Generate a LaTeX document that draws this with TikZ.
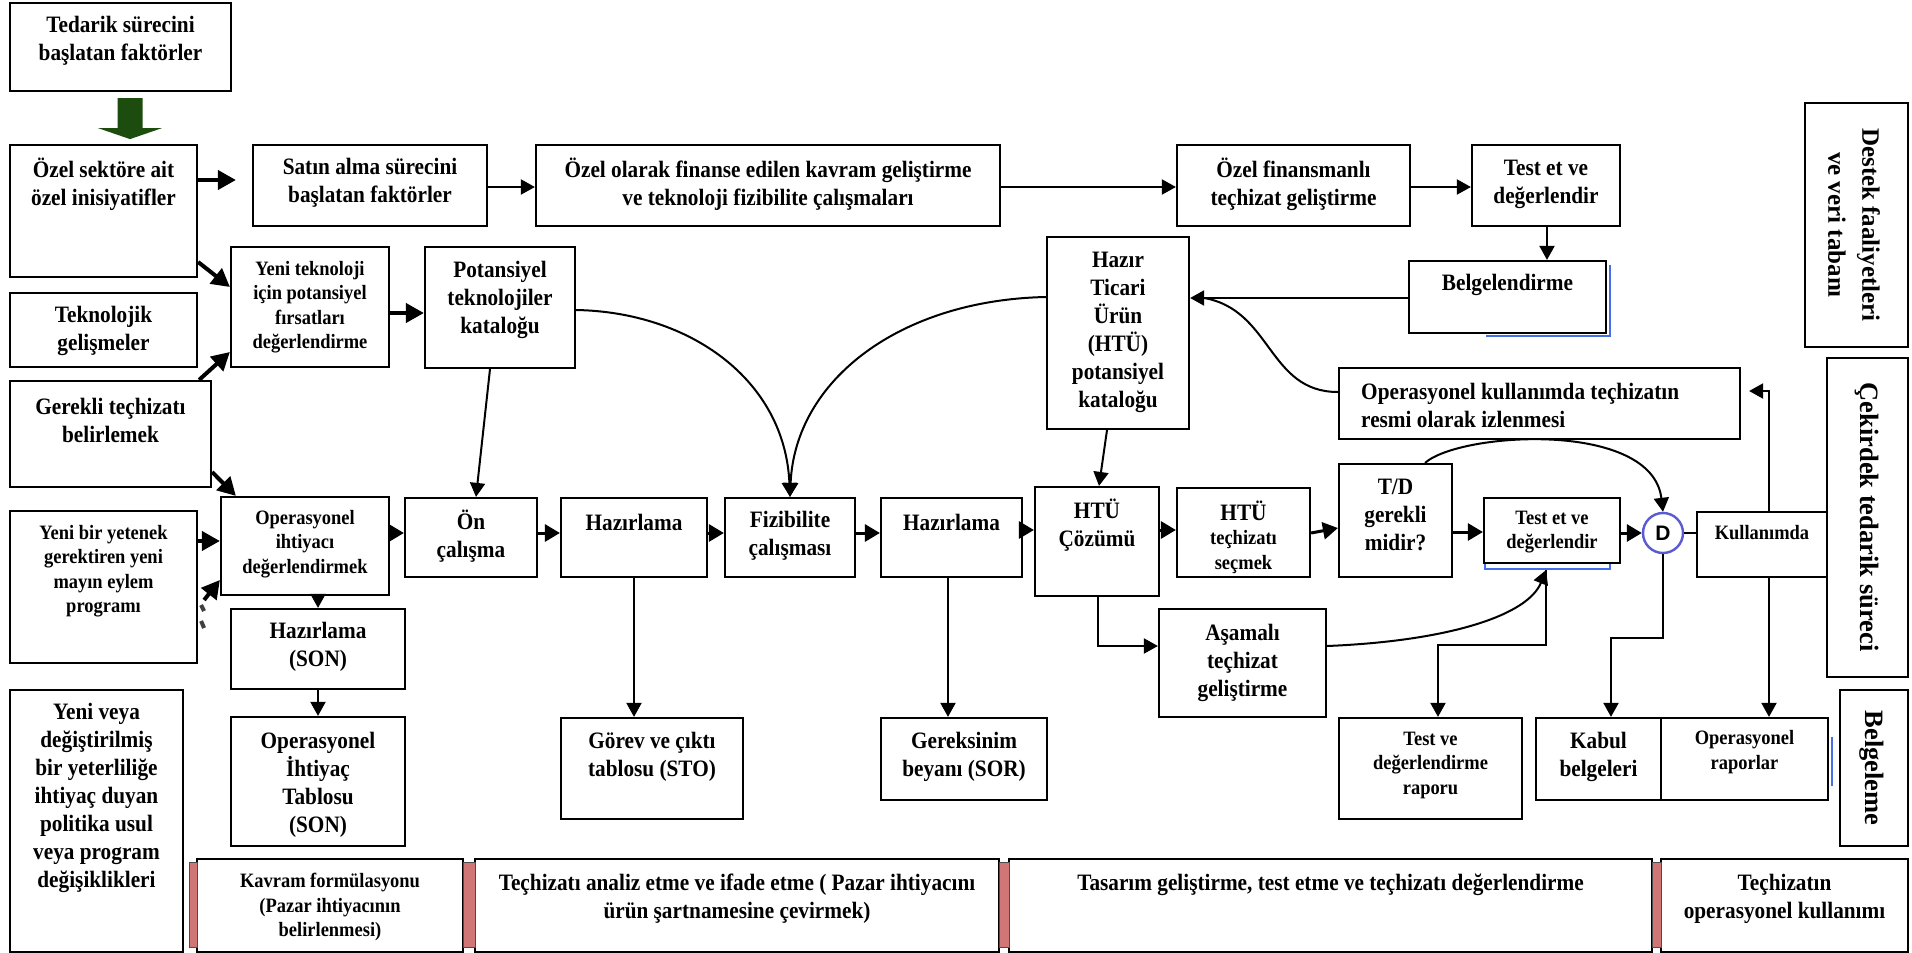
\documentclass[tikz,border=0pt]{standalone}
\usepackage{fontspec}
\setmainfont{Liberation Serif}
\newfontfamily\tfnt{Liberation Serif}[FakeStretch=0.905]
\newfontfamily\vfnt{Liberation Serif}
\newfontfamily\dfnt{Liberation Sans}
\usetikzlibrary{arrows.meta,fit,calc}
\definecolor{gdark}{RGB}{28,76,14}
\definecolor{bsh}{RGB}{70,110,230}
\definecolor{dblue}{RGB}{90,90,210}
\definecolor{rbar}{RGB}{208,118,118}
\newcommand\bx[5]{\node[box, fit={(#2,#3) (#4,#5)}] (#1) {};}
\tikzset{
 box/.style={draw=black, line width=2.2pt, inner sep=0pt},
 bt/.style={font=\tfnt\bfseries\fontsize{23.5}{28}\selectfont, align=center, inner sep=0pt},
 st/.style={font=\tfnt\bfseries\fontsize{20.4}{24.5}\selectfont, align=center, inner sep=0pt},
 vt/.style={font=\vfnt\bfseries\fontsize{25}{34}\selectfont, align=center, inner sep=0pt, rotate=-90},
 vtb/.style={font=\vfnt\bfseries\fontsize{26.5}{34}\selectfont, align=center, inner sep=0pt, rotate=-90},
 ln/.style={line width=2pt},
 ar/.style={line width=2pt, -{Triangle[length=14pt,width=15pt]}},
 mar/.style={line width=3pt, -{Triangle[length=15pt,width=17pt]}},
 tar/.style={line width=4pt, -{Triangle[length=18pt,width=19pt]}},
 shb/.style={draw=bsh, line width=2.2pt},
 redbar/.style={fill=rbar, draw=black!70, line width=1pt},
}
\begin{document}
\begin{tikzpicture}[x=1pt,y=-1pt]
\useasboundingbox (0,0) rectangle (1912,953);
\fill[white] (0,0) rectangle (1912,953);

% ---------- boxes ----------
\bx{ted}{10}{3}{231}{91}
\bx{ozs}{10}{145}{197}{277}
\bx{sat}{253}{145}{487}{226}
\bx{ozo}{536}{145}{1000}{226}
\bx{ozf}{1177}{145}{1410}{226}
\bx{tea}{1472}{145}{1620}{226}
\bx{blg}{1409}{261}{1606}{333}
\bx{dst}{1805}{103}{1908}{347}
\bx{ytk}{231}{247}{389}{367}
\bx{pot}{425}{247}{575}{368}
\bx{htc}{1047}{237}{1189}{429}
\bx{tek}{10}{293}{197}{367}
\bx{ger}{10}{381}{211}{487}
\bx{opk}{1339}{368}{1740}{439}
\bx{cek}{1827}{358}{1908}{677}
\bx{ybr}{10}{511}{197}{663}
\bx{opi}{221}{497}{389}{595}
\bx{onc}{405}{498}{537}{577}
\bx{hza}{561}{498}{707}{577}
\bx{fiz}{725}{498}{855}{577}
\bx{hzb}{881}{498}{1022}{577}
\bx{htu}{1035}{487}{1159}{596}
\bx{hts}{1177}{488}{1310}{577}
\bx{tdg}{1339}{464}{1452}{577}
\bx{teb}{1484}{498}{1620}{563}
\bx{kul}{1697}{512}{1827}{577}
\bx{son}{231}{609}{405}{689}
\bx{asm}{1159}{609}{1326}{717}
\bx{oit}{231}{717}{405}{846}
\bx{yvy}{10}{690}{183}{952}
\bx{grv}{561}{718}{743}{819}
\bx{grk}{881}{718}{1047}{800}
\bx{tdr}{1339}{718}{1522}{819}
\bx{kbl}{1536}{718}{1661}{800}
\bx{opr}{1661}{718}{1828}{800}
\bx{blm}{1840}{690}{1908}{846}
\bx{kvr}{197}{859}{463}{952}
\bx{tca}{475}{859}{999}{952}
\bx{tsr}{1009}{859}{1652}{952}
\bx{tko}{1661}{859}{1908}{952}

% red separators
\draw[redbar] (189,862) rectangle (197,947);
\draw[redbar] (463,862) rectangle (475,947);
\draw[redbar] (999,862) rectangle (1009,947);
\draw[redbar] (1652,862) rectangle (1661,947);

% blue shadows
\draw[shb] ($(blg.north east)+(3,5)$) -- ($(blg.south east)+(3,2)$) -- ($(blg.south)+(-22,2)$);
\draw[shb] ($(teb.south west)+(2,0)$) -- ($(teb.south west)+(2,5)$) -- ($(teb.south east)+(-11,5)$) -- ($(teb.south east)+(-11,0)$);
\draw[shb] ($(opr.north east)+(3,20)$) -- ($(opr.south east)+(3,-15)$);

% ---------- texts ----------
\node[bt] (ted-t) at (120.5,41) {Tedarik sürecini\\başlatan faktörler};
\node[bt] (ozs-t) at (103.5,184) {Özel sektöre ait\\özel inisiyatifler};
\node[bt] (sat-t) at (370,183) {Satın alma sürecini\\başlatan faktörler};
\node[bt] (ozo-t) at (768,184) {Özel olarak finanse edilen kavram geliştirme\\ve teknoloji fizibilite çalışmaları};
\node[bt] (ozf-t) at (1293.5,184) {Özel finansmanlı\\teçhizat geliştirme};
\node[bt] (tea-t) at (1546,184) {Test et ve\\değerlendir};
\node[bt] (blg-t) at (1507.5,285) {Belgelendirme};
\node[vt] (dst-t) at (1854,225) {Destek faaliyetleri\\ve veri tabanı};
\node[st] (ytk-t) at (310,307) {Yeni teknoloji\\için potansiyel\\fırsatları\\değerlendirme};
\node[bt] (pot-t) at (500,300) {Potansiyel\\teknolojiler\\kataloğu};
\node[bt] (htc-t) at (1118,332) {Hazır\\Ticari\\Ürün\\(HTÜ)\\potansiyel\\kataloğu};
\node[bt] (tek-t) at (103.5,331) {Teknolojik\\gelişmeler};
\node[bt] (ger-t) at (110.5,420) {Gerekli teçhizatı\\belirlemek};
\node[bt, align=left, anchor=west] (opk-t) at (1361,405) {Operasyonel kullanımda teçhizatın\\resmi olarak izlenmesi};
\node[vtb] (cek-t) at (1867,517) {Çekirdek tedarik süreci};
\node[st] (ybr-t) at (103.5,571) {Yeni bir yetenek\\gerektiren yeni\\mayın eylem\\programı};
\node[st] (opi-t) at (305,544) {Operasyonel\\ihtiyacı\\değerlendirmek};
\node[bt] (onc-t) at (471,536) {Ön\\çalışma};
\node[bt] (hza-t) at (634,522) {Hazırlama};
\node[bt] (fiz-t) at (790,536) {Fizibilite\\çalışması};
\node[bt] (hzb-t) at (951.5,522) {Hazırlama};
\node[bt] (htu-t) at (1097,525) {HTÜ\\Çözümü};
\node[bt] (hts-a) at (1243.5,511) {HTÜ};
\begin{scope}
\clip (1178,489) rectangle (1309,576);
\node[st] (hts-b) at (1243.5,552) {teçhizatı\\seçmek};
\end{scope}
\node[bt] (tdg-t) at (1395.5,515) {T/D\\gerekli\\midir?};
\node[st] (teb-t) at (1552,532) {Test et ve\\değerlendir};
\node[st] (kul-t) at (1762,533) {Kullanımda};
\node[bt] (son-t) at (318,647) {Hazırlama\\(SON)};
\node[bt] (asm-t) at (1242.5,663) {Aşamalı\\teçhizat\\geliştirme};
\node[bt] (oit-t) at (318,785) {Operasyonel\\İhtiyaç\\Tablosu\\(SON)};
\node[bt] (yvy-t) at (96.5,798) {Yeni veya\\değiştirilmiş\\bir yeterliliğe\\ihtiyaç duyan\\politika usul\\veya program\\değişiklikleri};
\node[bt] (grv-t) at (652,757) {Görev ve çıktı\\tablosu (STO)};
\node[bt] (grk-t) at (964,757) {Gereksinim\\beyanı (SOR)};
\node[st] (tdr-t) at (1430.5,765) {Test ve\\değerlendirme\\raporu};
\node[bt] (kbl-t) at (1598.5,757) {Kabul\\belgeleri};
\node[st] (opr-t) at (1744.5,752) {Operasyonel\\raporlar};
\node[vtb] (blm-t) at (1872,768) {Belgeleme};
\node[st] (kvr-t) at (330,907) {Kavram formülasyonu\\(Pazar ihtiyacının\\belirlenmesi)};
\node[bt] (tca-t) at (737,899) {Teçhizatı analiz etme ve ifade etme ( Pazar ihtiyacını\\ürün şartnamesine çevirmek)};
\node[bt] (tsr-t) at (1330.5,885) {Tasarım geliştirme, test etme ve teçhizatı değerlendirme};
\node[bt] (tko-t) at (1784.5,899) {Teçhizatın\\operasyonel kullanımı};

% D circle
\node[circle, draw=dblue, line width=2.4pt, fill=white, minimum size=40pt, inner sep=0pt,
      font=\dfnt\bfseries\fontsize{21}{21}\selectfont] (dcr) at (1663,533) {D};

% ---------- green block arrow ----------
\coordinate (g) at ($(ted.south)+(9.5,0)$);
\fill[gdark] ($(g)+(-12.5,6)$) -- ($(g)+(12.5,6)$) -- ($(g)+(12.5,36)$) -- ($(g)+(32,36)$)
  -- ($(g)+(0,47)$) -- ($(g)+(-32,36)$) -- ($(g)+(-12.5,36)$) -- cycle;

% ---------- connectors ----------
% top row
\draw[tar, shorten >=16pt] (ozs.east |- 0,180) -- (sat.west |- 0,180);
\draw[ar] (sat.east |- 0,187) -- (ozo.west |- 0,187);
\draw[ar] (ozo.east |- 0,187) -- (ozf.west |- 0,187);
\draw[ar] (ozf.east |- 0,187) -- (tea.west |- 0,187);
\draw[ar] (tea.south -| 1547,0) -- (blg.north -| 1547,0);
\draw[ar] (blg.west |- 0,298) -- (htc.east |- 0,298);
\draw[ln] (opk.west |- 0,392) .. controls (1268,392) and (1272,310) .. ($(htc.east |- 0,298)+(14,0)$);

% left side
\draw[tar] (ozs.east |- 0,262) -- (ytk.west |- 0,287);
\draw[tar] ($(ger.north east)+(-13,0)$) -- (ytk.west |- 0,352);
\draw[tar] (ger.east |- 0,472) -- ($(opi.north west)+(16,0)$);
\draw[tar] (ybr.east |- 0,541) -- (opi.west |- 0,541);
\draw[tar] ($(ybr.east |- 0,600)+(6,0)$) -- (opi.west |- 0,580);
\draw[line width=4pt, black!75] ($(ybr.east |- 0,605)+(3,0)$) -- ++(3,6);
\draw[line width=4pt, black!75] ($(ybr.east |- 0,621)+(3,0)$) -- ++(3,7);
\draw[tar] (ytk.east |- 0,313) -- (pot.west |- 0,313);

% curves into feasibility
\draw[ar] (pot.east |- 0,310) .. controls (690,312) and (785,380) .. (fiz.north);
\draw[ar] (htc.west |- 0,297) .. controls (900,300) and (795,380) .. (fiz.north);
\draw[ar] (pot.south -| 490,0) -- (onc.north -| 476,0);

% main row
\draw[mar] (opi.east |- 0,533) -- (onc.west |- 0,533);
\draw[mar] (onc.east |- 0,533) -- (hza.west |- 0,533);
\draw[mar] (hza.east |- 0,533) -- (fiz.west |- 0,533);
\draw[mar] (fiz.east |- 0,533) -- (hzb.west |- 0,533);
\draw[mar] (hzb.east |- 0,530) -- (htu.west |- 0,530);
\draw[mar] (htu.east |- 0,530) -- (hts.west |- 0,530);
\draw[mar] (hts.east |- 0,533) -- (tdg.west |- 0,528);
\draw[mar] (tdg.east |- 0,532) -- (teb.west |- 0,532);
\draw[mar] (teb.east |- 0,533) -- (dcr.west);
\draw[ln] (dcr.east) -- (kul.west |- dcr.east);
\draw[ar] (tdg.north -| 1425,0) .. controls (1460,432) and (1652,420) .. (dcr.north);
\draw[ar] (htc.south -| 1107,0) -- (htu.north -| 1099,0);

% downward links
\draw[ar] (son.north |- opi.south) -- (son.north);
\draw[ar] (son.south) -- (oit.north);
\draw[ar] (hza.south) -- (hza.south |- grv.north);
\draw[ar] (hzb.south -| 948,0) -- (grk.north -| 948,0);
\draw[ar] (htu.south -| 1098,0) |- (asm.west |- 0,646);
\draw[ar] (asm.east |- 0,646) .. controls (1450,641) and (1528,615) .. ($(teb.south -| 1546,0)+(0,6)$);
\draw[ar] ($(teb.south -| 1546,0)+(0,6)$) -- (1546,645) -| (tdr.north -| 1438,0);
\draw[ar] (dcr.south) -- (dcr.south |- 0,638) -| (kbl.north -| 1611,0);
\draw[ar, shorten >=8pt] (kul.north -| 1769,0) |- (opk.east |- 0,391);
\draw[ar] (kul.south -| 1769,0) -- (opr.north -| 1769,0);
\end{tikzpicture}
\end{document}
